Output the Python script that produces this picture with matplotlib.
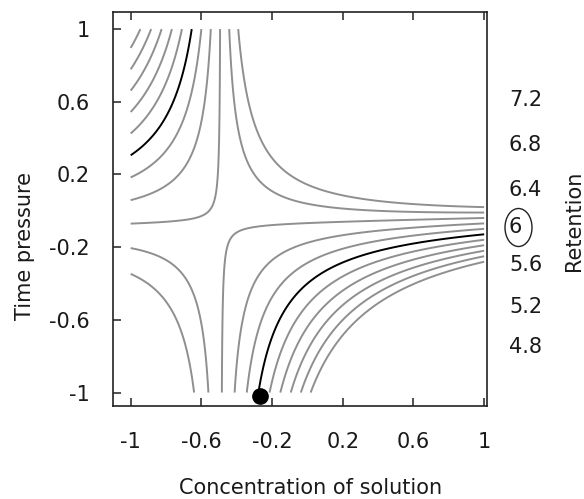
import matplotlib
matplotlib.use("Agg")
import matplotlib.pyplot as plt
import numpy as np
from matplotlib.patches import Ellipse

# contour levels (Retention); 6 is the highlighted one
levels = [5.0, 5.2, 5.4, 5.6, 5.8, 6.0, 6.2, 6.4, 6.6, 6.8, 7.0]
highlight = 6.0

# where each level meets the four edges of the [-1, 1] square
top_x = [-0.383, -0.435, -0.490, -0.544, -0.594, -0.646, -0.708, -0.765, -0.825, -0.881, -0.947]
left_y = [-0.353, -0.202, -0.070, 0.057, 0.186, 0.314, 0.435, 0.549, 0.664, 0.774, 0.901]
right_y = [0.023, -0.008, -0.040, -0.067, -0.102, -0.129, -0.159, -0.191, -0.218, -0.250, -0.279]
bottom_x = [-0.636, -0.561, -0.491, -0.413, -0.342, -0.272, -0.212, -0.155, -0.098, -0.037, 0.026]

# a few points read along the lines inside the square
inner_level = [5.4, 5.4, 5.4, 5.4, 5.4, 5.4, 5.4, 5.4, 5.4,
               5.2, 5.2, 5.2, 5.0, 5.0, 5.0,
               5.2, 5.2, 5.2, 5.0, 5.0,
               6.0, 6.0, 6.0, 6.0, 6.0, 6.0]
inner_x = [-0.491, -0.513, -0.551, -0.636, -0.495, -0.466, -0.410, -0.240, 0.145,
           -0.353, -0.270, -0.042, -0.334, -0.240, -0.070,
           -0.796, -0.683, -0.608, -0.891, -0.721,
           -0.749, -0.844, -0.230, -0.098, 0.147, 0.524]
inner_y = [0.344, 0.142, 0.004, -0.032, -0.216, -0.142, -0.096, -0.069, -0.051,
           0.325, 0.200, 0.050, 0.655, 0.353, 0.210,
           -0.289, -0.399, -0.674, -0.399, -0.583,
           0.591, 0.444, -0.674, -0.491, -0.307, -0.188]

# saddle: level and the two crossing asymptotes
saddle_level = 5.384
saddle_x = -0.49
saddle_y_left = -0.081   # horizontal asymptote at x = -1
saddle_y_right = -0.037  # horizontal asymptote at x = 1

# optimum point
opt_x = [-0.27]
opt_y = [-1.02]

x_ticks = [-1, -0.6, -0.2, 0.2, 0.6, 1]
y_ticks = [-1, -0.6, -0.2, 0.2, 0.6, 1]
side_labels = ['7.2', '6.8', '6.4', '6', '5.6', '5.2', '4.8']


def cross(x, y):
    # product of the distances to the two asymptotes
    sy = (saddle_y_left + saddle_y_right) / 2 + (saddle_y_right - saddle_y_left) / 2 * x
    return (x - saddle_x) * (y - sy)


def basis(x, y):
    return np.stack([np.ones_like(x), x, y, x**2, x * y, y**2], axis=-1)


# fit the smooth scale factor of the saddle from the read points
n = len(levels)
px = np.concatenate([top_x, -np.ones(n), np.ones(n), bottom_x, inner_x])
py = np.concatenate([np.ones(n), left_y, right_y, -np.ones(n), inner_y])
pz = np.concatenate([levels, levels, levels, levels, inner_level])
A = cross(px, py)[:, None] * basis(px, py)
coef, *_ = np.linalg.lstsq(A, pz - saddle_level, rcond=None)

g = np.linspace(-1, 1, 301)
X, Y = np.meshgrid(g, g)
Z = saddle_level + cross(X, Y) * (basis(X, Y) @ coef)

fig = plt.figure(figsize=(5.84, 4.99), dpi=100)
ax = fig.add_axes([113 / 584, 1 - 406 / 499, 374 / 584, 394 / 499])

colors = ['black' if np.isclose(l, highlight) else '#8f8f8f' for l in levels]
ax.contour(X, Y, Z, levels=levels, colors=colors, linewidths=1.4)
ax.plot(opt_x, opt_y, 'o', color='black', markersize=11, clip_on=False, zorder=5)

ax.set_xlim(-1.100, 1.016)
ax.set_ylim(-1.074, 1.094)
ax.set_xticks(x_ticks)
ax.set_xticklabels([f'{t:g}' for t in x_ticks])
ax.set_yticks(y_ticks)
ax.set_yticklabels([f'{t:g}' for t in y_ticks])
ax.tick_params(direction='in', length=5.5, width=1.1, top=True, right=False,
               labelsize=15, labelcolor='#1a1a1a', color='#222222')
ax.tick_params(axis='x', pad=18.5)
ax.tick_params(axis='y', pad=16.5)
for s in ax.spines.values():
    s.set_linewidth(1.2)
    s.set_color('#222222')

fig.text(311 / 584, 1 - 488 / 499, 'Concentration of solution', fontsize=15,
         color='#1a1a1a', ha='center', va='center')
fig.text(25 / 584, 1 - 246 / 499, 'Time pressure', fontsize=15, rotation=90,
         color='#1a1a1a', ha='center', va='center')
fig.text(574 / 584, 1 - 221 / 499, 'Retention', fontsize=15, rotation=90,
         color='#1a1a1a', ha='center', va='center')

label_y = [100, 145, 190, 227, 265, 307, 347]
for lab, yy in zip(side_labels, label_y):
    fig.text(509 / 584, 1 - yy / 499, lab, fontsize=15, color='#1a1a1a',
             ha='left', va='center')
fig.add_artist(Ellipse((518.5 / 584, 1 - 227.5 / 499), 27 / 584, 38 / 499,
                       transform=fig.transFigure, fill=False, lw=1.0,
                       edgecolor='#222222'))

fig.savefig('out.png', dpi=100)
